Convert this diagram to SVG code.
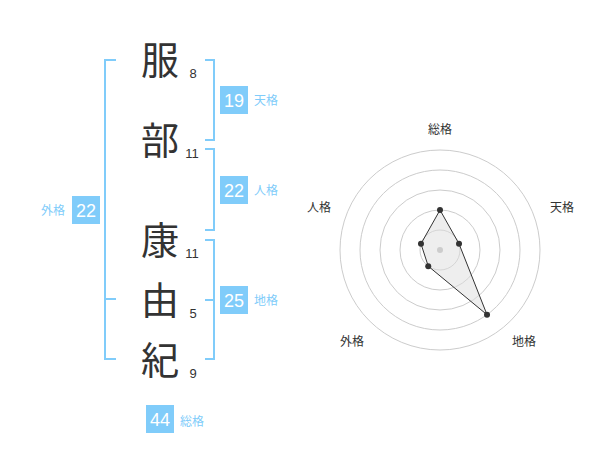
<svg xmlns="http://www.w3.org/2000/svg" width="600" height="470" viewBox="0 0 600 470">
<style>
.kj{font-family:"Noto Sans CJK JP","Noto Sans CJK SC",sans-serif;font-size:38px;fill:#333;text-anchor:middle}
.num{font-family:"Liberation Sans",Arial,sans-serif;font-size:13px;fill:#333;text-anchor:middle}
.br{fill:none;stroke:#80ccfa;stroke-width:2}
.box{fill:#80ccfa}
.bt{font-family:"Liberation Sans",Arial,sans-serif;font-size:18px;fill:#fff;text-anchor:middle}
.lb{font-family:"Noto Sans CJK JP","Noto Sans CJK SC",sans-serif;font-size:12px;fill:#80ccfa}
.rl{font-family:"Noto Sans CJK JP","Noto Sans CJK SC",sans-serif;font-size:12px;fill:#333;text-anchor:middle}
.ring{fill:none;stroke:#ccc;stroke-width:1}
.pt{fill:#333}
</style>
<rect width="600" height="470" fill="#fff"/>
<g id="chars">
<g id="c1"><text class="kj" x="160" y="74">服</text><text class="num" x="193" y="78">8</text></g>
<g id="c2"><text class="kj" x="160" y="154">部</text><text class="num" x="192" y="158">11</text></g>
<g id="c3"><text class="kj" x="160" y="254">康</text><text class="num" x="192" y="258">11</text></g>
<g id="c4"><text class="kj" x="160" y="314">由</text><text class="num" x="193" y="318">5</text></g>
<g id="c5"><text class="kj" x="160" y="374">紀</text><text class="num" x="193" y="378">9</text></g>
</g>
<g id="connectors">
<path class="br" d="M116,60 H105 V359 H116 M105,299 H116"/>
<path class="br" d="M205,60 H214 V140 H205"/>
<path class="br" d="M205,149 H214 V230 H205"/>
<path class="br" d="M205,240 H214 V359 H205 M205,300 H214"/>
</g>
<g id="tenkaku"><rect class="box" x="220" y="86" width="28" height="28"/><text class="bt" x="234" y="107">19</text><text class="lb" x="254" y="105">天格</text></g>
<g id="jinkaku"><rect class="box" x="220" y="176" width="28" height="28"/><text class="bt" x="234" y="197">22</text><text class="lb" x="254" y="195">人格</text></g>
<g id="chikaku"><rect class="box" x="220" y="286" width="28" height="28"/><text class="bt" x="234" y="307">25</text><text class="lb" x="254" y="305">地格</text></g>
<g id="gaikaku"><rect class="box" x="72" y="196" width="28" height="28"/><text class="bt" x="86" y="217">22</text><text class="lb" x="41" y="215">外格</text></g>
<g id="soukaku"><rect class="box" x="146" y="405" width="28" height="28"/><text class="bt" x="160" y="426">44</text><text class="lb" x="180" y="426">総格</text></g>
<g id="radar">
<circle class="ring" cx="440" cy="250" r="20"/>
<circle class="ring" cx="440" cy="250" r="40"/>
<circle class="ring" cx="440" cy="250" r="60"/>
<circle class="ring" cx="440" cy="250" r="80"/>
<circle class="ring" cx="440" cy="250" r="100"/>
<polygon points="440,210 459.02,243.82 487.02,314.72 428.24,266.18 420.98,243.82" fill="#ddd" fill-opacity="0.5" stroke="#333" stroke-width="1"/>
<circle cx="440" cy="250" r="3" fill="#ccc"/>
<circle class="pt" cx="440" cy="210" r="3"/>
<circle class="pt" cx="459.02" cy="243.82" r="3"/>
<circle class="pt" cx="487.02" cy="314.72" r="3"/>
<circle class="pt" cx="428.24" cy="266.18" r="3"/>
<circle class="pt" cx="420.98" cy="243.82" r="3"/>
<text class="rl" x="440" y="134">総格</text>
<text class="rl" x="562" y="212">天格</text>
<text class="rl" x="524" y="346">地格</text>
<text class="rl" x="352" y="346">外格</text>
<text class="rl" x="319" y="212">人格</text>
</g>
</svg>
